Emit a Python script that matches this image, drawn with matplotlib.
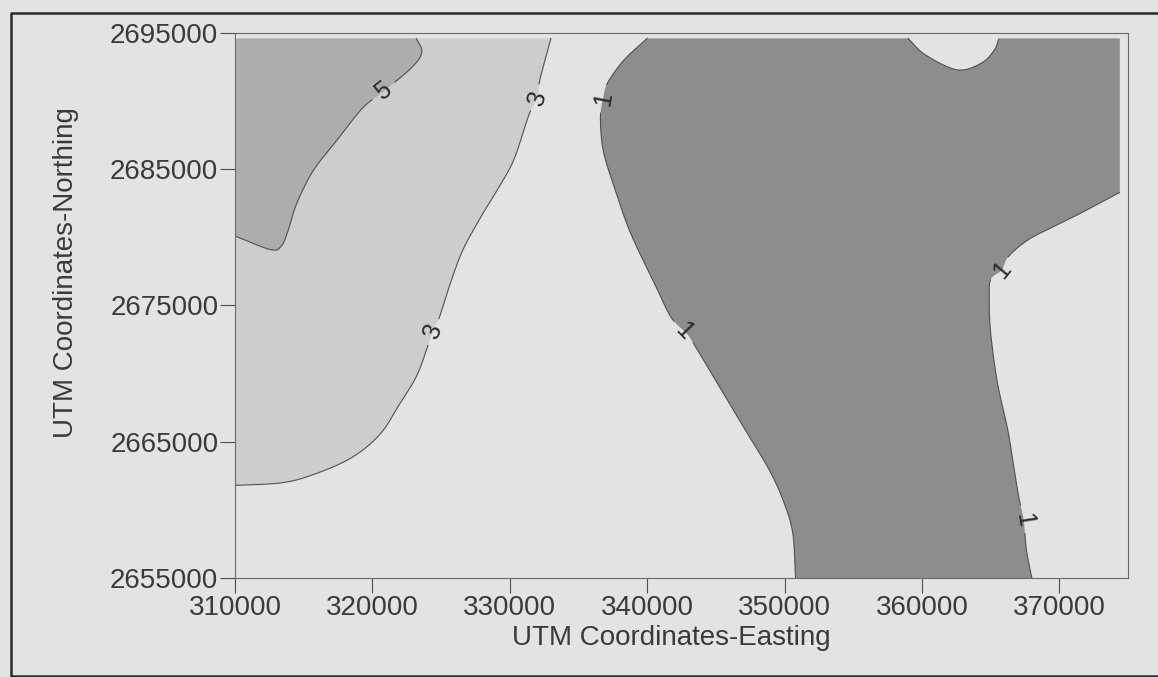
import numpy as np
import matplotlib.pyplot as plt
from matplotlib.lines import Line2D

plt.rcParams['font.family'] = ['Liberation Sans', 'DejaVu Sans']

# map extent (UTM metres)
x_min, x_max = 310000, 375000
y_min, y_max = 2655000, 2695000
# the gridded surface stops a little short of the top / right frame
grid_right, grid_top = 374400, 2694600

# contour 5 (top edge -> left edge)
c5_east = [323200, 323600, 322900, 320800, 319300, 317400, 315700, 314500,
           313900, 313400, 312600, 310000]
c5_north = [2694600, 2693600, 2692500, 2690700, 2689500, 2687100, 2684900,
            2682500, 2680600, 2679400, 2679100, 2680100]

# contour 3 (top edge -> left edge)
c3_east = [333000, 332200, 332000, 331400, 330300, 329100, 327900, 326600,
           325700, 324900, 324400, 323300, 322000, 320600, 318600,
           316000, 313500, 310000]
c3_north = [2694600, 2691600, 2690200, 2689000, 2685700, 2683500, 2681500,
            2679100, 2676700, 2674200, 2673100, 2670000, 2667800,
            2665600, 2663900, 2662700, 2662000, 2661800]

# contour 1, western branch (top edge -> bottom edge)
c1w_east = [340000, 338300, 337100, 336800, 336600, 336800, 337600, 338800,
            340500, 341700, 342700, 343200, 345100, 347000, 348800, 349900,
            350600, 350800]
c1w_north = [2694600, 2693000, 2691300, 2690200, 2688800, 2686400, 2683700,
             2680300, 2676700, 2674200, 2673100, 2672500, 2669300, 2666100,
             2663100, 2660700, 2658300, 2655000]

# contour 1, eastern branch (bottom edge -> right edge)
c1e_east = [368000, 367600, 367400, 367000, 366300, 365500, 365000, 364900,
            365000, 365800, 366300, 367700, 369400, 371600, 374400]
c1e_north = [2655000, 2657100, 2659300, 2661200, 2665600, 2669300, 2673000,
             2675400, 2676900, 2677600, 2678600, 2679800, 2680700, 2681800,
             2683300]

# contour 1, small bite at the top edge (west -> east)
c1n_east = [359000, 360100, 361900, 363100, 364500, 365300, 365600]
c1n_north = [2694600, 2693500, 2692500, 2692300, 2692900, 2693800, 2694600]

# contour labels
label_text = ['5', '3', '3', '1', '1', '1', '1']
label_east = [320800, 332000, 324400, 336800, 342700, 365800, 367400]
label_north = [2690700, 2690200, 2673100, 2690200, 2673100, 2677600, 2659300]

col_bg = '#e3e3e1'
col_low = '#8d8d8c'     # <= 1
col_mid = '#e3e3e1'     # 1 - 3
col_high = '#cdcdcc'    # 3 - 5
col_top = '#adadac'     # >= 5
col_line = '#505050'
col_text = '#3a3a3a'

fig = plt.figure(figsize=(11.58, 6.77), dpi=100, facecolor=col_bg)
ax = fig.add_axes([0.2029, 0.1462, 0.7712, 0.8051])
ax.set_facecolor(col_mid)
ax.set_xlim(x_min, x_max)
ax.set_ylim(y_min, y_max)


def smooth(e, n, k=16):
    # Catmull-Rom curve through the traced points
    p = np.column_stack([e, n]).astype(float)
    p = np.vstack([2 * p[0] - p[1], p, 2 * p[-1] - p[-2]])
    out = []
    t = np.linspace(0, 1, k, endpoint=False)[:, None]
    for i in range(1, len(p) - 2):
        p0, p1, p2, p3 = p[i - 1], p[i], p[i + 1], p[i + 2]
        out.append(0.5 * (2 * p1 + (p2 - p0) * t
                          + (2 * p0 - 5 * p1 + 4 * p2 - p3) * t ** 2
                          + (3 * p1 - p0 - 3 * p2 + p3) * t ** 3))
    out.append(p[-2][None])
    out = np.vstack(out)
    return list(out[:, 0]), list(out[:, 1])


s5 = smooth(c5_east, c5_north)
s3 = smooth(c3_east, c3_north)
s1w = smooth(c1w_east, c1w_north)
s1e = smooth(c1e_east, c1e_north)
s1n = smooth(c1n_east, c1n_north)

# filled bands
ax.fill(s3[0] + [x_min], s3[1] + [grid_top], color=col_high, lw=0)
ax.fill(s5[0] + [x_min], s5[1] + [grid_top], color=col_top, lw=0)
low_e = s1w[0] + s1e[0] + [grid_right] + s1n[0][::-1]
low_n = s1w[1] + s1e[1] + [grid_top] + s1n[1][::-1]
ax.fill(low_e, low_n, color=col_low, lw=0)
# strips outside the gridded surface
ax.fill([x_min, grid_right, grid_right, x_max, x_max, x_min],
        [grid_top, grid_top, y_min, y_min, y_max, y_max], color=col_mid, lw=0)


def draw_contour(e, n, gap=14):
    pts = ax.transData.transform(np.column_stack([e, n]))
    seg = np.hypot(*np.diff(pts, axis=0).T)
    s = np.concatenate([[0], np.cumsum(seg)])
    t = np.arange(0, s[-1], 1.0)
    dx = np.interp(t, s, pts[:, 0])
    dy = np.interp(t, s, pts[:, 1])
    lab = ax.transData.transform(np.column_stack([label_east, label_north]))
    keep = np.ones(len(t), bool)
    for lx, ly in lab:
        d = np.hypot(dx - lx, dy - ly)
        if d.min() < 5:
            keep &= d > gap
    data = ax.transData.inverted().transform(np.column_stack([dx, dy]))
    data[~keep] = np.nan
    ax.plot(data[:, 0], data[:, 1], color=col_line, lw=0.8)
    return np.column_stack([dx, dy])


paths = [draw_contour(*s5), draw_contour(*s3), draw_contour(*s1w),
         draw_contour(*s1e), draw_contour(*s1n)]

# labels rotated along their line
for txt, le, ln in zip(label_text, label_east, label_north):
    lx, ly = ax.transData.transform((le, ln))
    best = min(paths, key=lambda p: np.hypot(p[:, 0] - lx, p[:, 1] - ly).min())
    i = np.argmin(np.hypot(best[:, 0] - lx, best[:, 1] - ly))
    a, b = best[max(i - 8, 0)], best[min(i + 8, len(best) - 1)]
    ang = np.degrees(np.arctan2(b[1] - a[1], b[0] - a[0]))
    if ang > 90:
        ang -= 180
    elif ang <= -90:
        ang += 180
    ax.text(le, ln, txt, rotation=ang, rotation_mode='anchor', ha='center',
            va='center', fontsize=18, color='#2a2a2a')

ax.set_xticks(range(310000, 370001, 10000))
ax.set_yticks(range(2655000, 2695001, 10000))
ax.ticklabel_format(style='plain', useOffset=False)
ax.tick_params(direction='out', length=11, width=0.8, color=col_line,
               labelcolor=col_text, labelsize=20, pad=1)
for sp in ax.spines.values():
    sp.set_color('#6a6a6a')
    sp.set_linewidth(0.8)

fig.text(0.580, 1 - 638 / 677, 'UTM Coordinates-Easting', ha='center',
         va='center', fontsize=20, color=col_text)
fig.text(0.057, 1 - 273 / 677, 'UTM Coordinates-Northing', ha='center',
         va='center', rotation=90, fontsize=20, color=col_text)

# page border around the figure
fig.add_artist(Line2D([1.2, 0.0095, 0.0095, 1.2],
                      [1 - 13 / 677, 1 - 13 / 677, 0.002, 0.002],
                      transform=fig.transFigure, color='#2a2a2a', lw=1.8))

fig.savefig('out.png', dpi=100, facecolor=col_bg)
